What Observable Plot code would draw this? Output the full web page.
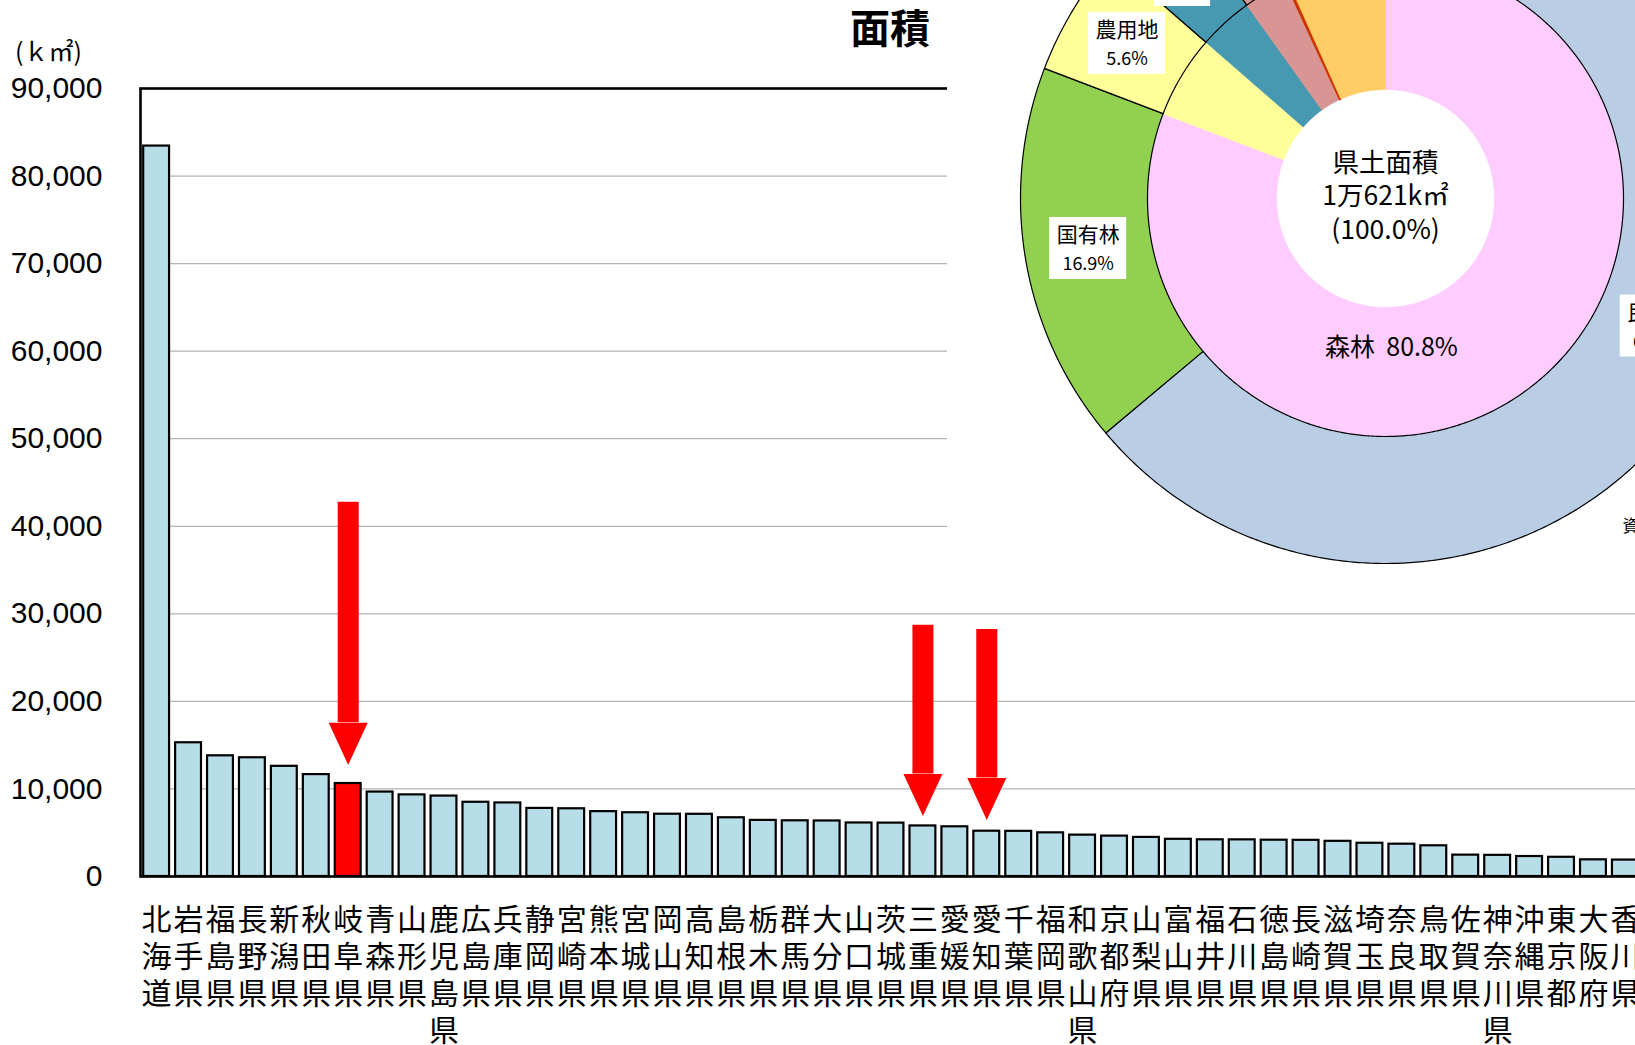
<!DOCTYPE html>
<html><head><meta charset="utf-8">
<script src="https://cdn.jsdelivr.net/npm/d3@7"></script>
<script src="https://cdn.jsdelivr.net/npm/@observablehq/plot@0.6"></script>
<style>
html,body{margin:0;padding:0;background:#fff;overflow:hidden;width:1635px;height:1045px;}
#wrap{position:relative;width:1635px;height:1045px;overflow:hidden;}
#bars{position:absolute;left:0;top:0;width:1700px;}
#pie{position:absolute;left:947px;top:0;width:688px;}
.title{position:absolute;left:850px;top:6px;font:bold 40px/40px "Noto Sans CJK JP";color:#000;white-space:nowrap;}
.unit{position:absolute;left:15px;top:36px;font:25px/28px "Noto Sans CJK JP";color:#000;white-space:nowrap;}
</style></head><body>
<div id="wrap">
  <div id="bars"></div>
  <div class="title" id="title"></div>
  <div class="unit" id="unit"></div>
  <div id="pie"></div>
</div>
<script>
// ---------- data ----------
const chartTitle = "面積";
const unitLabel = "(ｋ㎡)";
const prefectures = ["北海道","岩手県","福島県","長野県","新潟県","秋田県","岐阜県","青森県","山形県","鹿児島県",
  "広島県","兵庫県","静岡県","宮崎県","熊本県","宮城県","岡山県","高知県","島根県","栃木県",
  "群馬県","大分県","山口県","茨城県","三重県","愛媛県","愛知県","千葉県","福岡県","和歌山県",
  "京都府","山梨県","富山県","福井県","石川県","徳島県","長崎県","滋賀県","埼玉県","奈良県",
  "鳥取県","佐賀県","神奈川県","沖縄県","東京都","大阪府","香川県"];
const areas = [83424,15275,13784,13562,12584,11638,10621,9646,9323,9187,
  8479,8401,7777,7735,7409,7282,7114,7104,6708,6408,
  6362,6341,6113,6097,5774,5676,5173,5158,4987,4725,
  4612,4465,4248,4191,4186,4147,4131,4017,3798,3691,
  3507,2441,2416,2282,2194,1905,1877];
const highlighted = "岐阜県";
const arrowPrefs = ["岐阜県","三重県","愛知県"];
const arrowFrom = [42750, 28700, 28220];
const arrowTo = [12750, 6920, 6440];
const yTicks = [0,10000,20000,30000,40000,50000,60000,70000,80000,90000];

const landUse = ["森林","農用地","水面","道路","原野等","宅地等"];
const landUseShare = [80.8, 5.6, 3.7, 3.0, 0.2, 6.7];
const forestParts = ["民有林","国有林"];
const forestShare = [63.9, 16.9];
const centerLines = ["県土面積","1万621k㎡","(100.0%)"];
const sourceNote = "資料：岐阜県土地利用現況";

// ---------- styles ----------
const segColors = {"森林":"#FFCCFF","民有林":"#B9CDE5","国有林":"#92D050","農用地":"#FFFF99",
  "水面":"#4699B0","道路":"#D99594","原野等":"#CC3300","宅地等":"#FFCC66"};
const barFill = "#B7DEE8", hiFill = "#FF0000", arrowColor = "#FF0000";
const jp = "Noto Sans CJK JP", latin = "Liberation Sans";

document.getElementById("title").textContent = chartTitle;
document.getElementById("unit").textContent = unitLabel;

// ---------- bar chart ----------
const bars = prefectures.map((p, i) => ({pref: p, area: areas[i]}));
const arrows = arrowPrefs.map((p, i) => ({pref: p, from: arrowFrom[i], to: arrowTo[i]}));
const arrowHead = {draw(ctx) { ctx.moveTo(0, 0); ctx.lineTo(-19.5, -42); ctx.lineTo(19.5, -42); ctx.closePath(); }};

const rowMarks = [0, 1, 2, 3].map(k =>
  Plot.text(prefectures.filter(p => p.length > k), {
    x: d => d, text: d => d[k], frameAnchor: "bottom", dy: 53 + 37 * k,
    fontSize: 30, fontFamily: jp, fill: "#000"
  }));

const barPlot = Plot.plot({
  width: 1680, height: 1045,
  marginLeft: 140, marginRight: 39, marginTop: 88, marginBottom: 169,
  x: {type: "band", domain: prefectures, range: [140, 1641], paddingInner: 0.19, paddingOuter: 0.1, round: false, axis: null},
  y: {domain: [0, 90000], range: [876, 88], axis: null},
  color: {type: "identity"},
  style: {background: "transparent", maxWidth: "none", overflow: "visible"},
  marks: [
    Plot.ruleY(yTicks.filter(v => v > 0 && v < 90000), {stroke: "#b4b4b4", strokeWidth: 1.3}),
    Plot.barY(bars, {x: "pref", y: "area", fill: d => d.pref === highlighted ? hiFill : barFill, stroke: "#000", strokeWidth: 2.2}),
    Plot.frame({stroke: "#000", strokeWidth: 2.6, fill: "none"}),
    Plot.ruleX(arrows, {x: "pref", y1: "from", y2: "to", insetBottom: 42, stroke: arrowColor, strokeWidth: 21}),
    Plot.dot(arrows, {x: "pref", y: "to", symbol: arrowHead, r: 10, fill: arrowColor, stroke: "none"}),
    Plot.text(yTicks, {y: d => d, text: d => d3.format(",")(d), frameAnchor: "left", textAnchor: "end", dx: -38,
      fontSize: 30, fontFamily: latin, fill: "#000"}),
    ...rowMarks
  ]
});
document.getElementById("bars").appendChild(barPlot);

// ---------- donut ----------
const pieW = 688, pieH = 575, cx = 438, cy = 198;
const rHole = 109, rMid = 238, rOut = 365;

function ring(names, shares, r0, r1, tag) {
  let acc = 0;
  return names.map((n, i) => {
    const a0 = acc / 100 * 360; acc += shares[i]; const a1 = acc / 100 * 360;
    return {name: n, share: shares[i], a0, a1, r0, r1, id: tag + n};
  });
}
function polygon(seg) {
  const pts = [];
  const n = Math.max(2, Math.ceil((seg.a1 - seg.a0) / 0.5));
  for (let k = 0; k <= n; k++) {
    const a = (seg.a0 + (seg.a1 - seg.a0) * k / n) * Math.PI / 180;
    pts.push({id: seg.id, name: seg.name, x: seg.r1 * Math.sin(a), y: seg.r1 * Math.cos(a)});
  }
  for (let k = n; k >= 0; k--) {
    const a = (seg.a0 + (seg.a1 - seg.a0) * k / n) * Math.PI / 180;
    pts.push({id: seg.id, name: seg.name, x: seg.r0 * Math.sin(a), y: seg.r0 * Math.cos(a)});
  }
  pts.push({...pts[0]});
  return pts;
}
const innerSegs = ring(landUse, landUseShare, rHole, rMid, "in-");
const outerSegs = ring([...forestParts, ...landUse.slice(1)], [...forestShare, ...landUseShare.slice(1)], rMid, rOut, "out-");
const innerPts = innerSegs.flatMap(polygon);
const outerPts = outerSegs.flatMap(polygon);

const rLab = (rMid + rOut) / 2;
const labels = outerSegs.filter(s => s.name !== "原野等").map(s => {
  const m = (s.a0 + s.a1) / 2 * Math.PI / 180;
  const w = Math.max(s.name.length * 21, 38) + 14;
  return {name: s.name, pct: s.share.toFixed(1) + "%", cx: rLab * Math.sin(m), cy: rLab * Math.cos(m), w};
});

const piePlot = Plot.plot({
  width: pieW, height: pieH,
  marginLeft: 0, marginRight: 0, marginTop: 0, marginBottom: 0,
  x: {domain: [-cx, pieW - cx], range: [0, pieW], axis: null},
  y: {domain: [cy - pieH, cy], range: [pieH, 0], axis: null},
  color: {type: "identity"},
  style: {background: "#fff", maxWidth: "none"},
  marks: [
    Plot.line(innerPts, {x: "x", y: "y", z: "id", fill: d => segColors[d.name], stroke: d => segColors[d.name],
      strokeWidth: d => d.name === "原野等" ? 1.5 : 0.8, curve: "linear"}),
    Plot.line(outerPts, {x: "x", y: "y", z: "id", fill: d => segColors[d.name], stroke: "#000", strokeWidth: 1.2, curve: "linear"}),
    Plot.rect(labels, {x1: d => d.cx - d.w / 2, x2: d => d.cx + d.w / 2, y1: d => d.cy - 31, y2: d => d.cy + 31, fill: "#fff"}),
    Plot.text(labels, {x: "cx", y: d => d.cy + 13, text: "name", fontSize: 21, fontFamily: jp, fill: "#000"}),
    Plot.text(labels, {x: "cx", y: d => d.cy - 16, text: "pct", fontSize: 18, fontFamily: jp, fill: "#000"}),
    Plot.text(centerLines, {x: () => 0, y: (d, i) => 35 - 33.5 * i, text: d => d, fontSize: 26.5, fontFamily: jp, fill: "#000"}),
    Plot.text([landUse[0] + "\u00a0 " + landUseShare[0].toFixed(1) + "%"], {x: () => 6, y: () => -149, text: d => d, fontSize: 25, fontFamily: jp, fill: "#000"}),
    Plot.text([sourceNote], {x: () => 237, y: () => -328, text: d => d, textAnchor: "start", fontSize: 17, fontFamily: jp, fill: "#000"})
  ]
});
document.getElementById("pie").appendChild(piePlot);
</script>
</body></html>
